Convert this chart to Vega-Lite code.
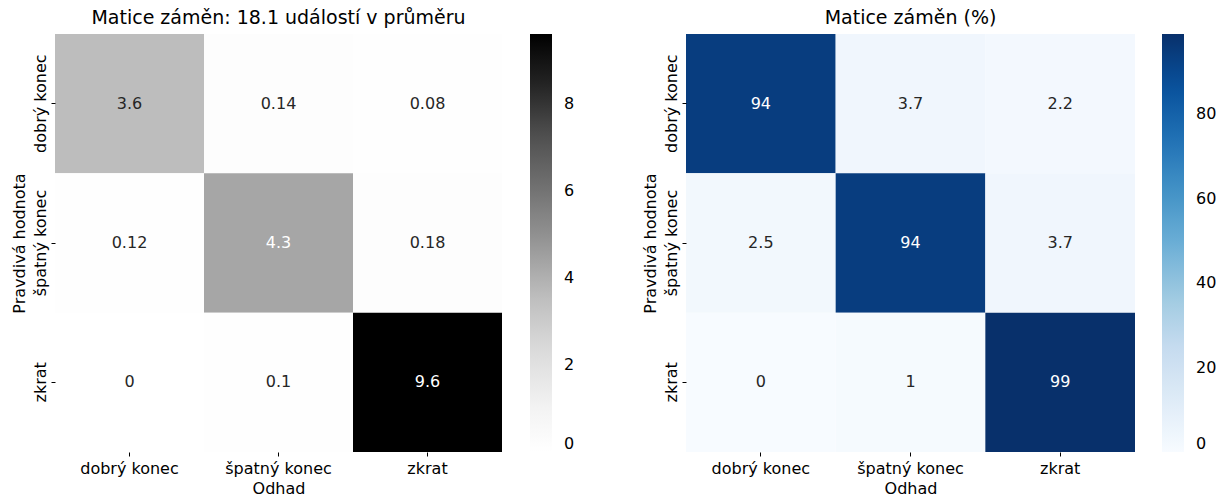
{
  "$schema": "https://vega.github.io/schema/vega-lite/v6.json",
  "padding": {"left": 11, "top": 9, "right": 0, "bottom": 0},
  "background": "white",
  "datasets": {
    "counts": [
      {"skutecnost": "dobrý konec", "odhad": "dobrý konec", "v": 3.6},
      {"skutecnost": "dobrý konec", "odhad": "špatný konec", "v": 0.14},
      {"skutecnost": "dobrý konec", "odhad": "zkrat", "v": 0.08},
      {"skutecnost": "špatný konec", "odhad": "dobrý konec", "v": 0.12},
      {"skutecnost": "špatný konec", "odhad": "špatný konec", "v": 4.3},
      {"skutecnost": "špatný konec", "odhad": "zkrat", "v": 0.18},
      {"skutecnost": "zkrat", "odhad": "dobrý konec", "v": 0},
      {"skutecnost": "zkrat", "odhad": "špatný konec", "v": 0.1},
      {"skutecnost": "zkrat", "odhad": "zkrat", "v": 9.6}
    ],
    "percent": [
      {"skutecnost": "dobrý konec", "odhad": "dobrý konec", "v": 94},
      {"skutecnost": "dobrý konec", "odhad": "špatný konec", "v": 3.7},
      {"skutecnost": "dobrý konec", "odhad": "zkrat", "v": 2.2},
      {"skutecnost": "špatný konec", "odhad": "dobrý konec", "v": 2.5},
      {"skutecnost": "špatný konec", "odhad": "špatný konec", "v": 94},
      {"skutecnost": "špatný konec", "odhad": "zkrat", "v": 3.7},
      {"skutecnost": "zkrat", "odhad": "dobrý konec", "v": 0},
      {"skutecnost": "zkrat", "odhad": "špatný konec", "v": 1},
      {"skutecnost": "zkrat", "odhad": "zkrat", "v": 99}
    ]
  },
  "hconcat": [
    {
      "title": "Matice záměn: 18.1 událostí v průměru",
      "width": 447,
      "height": 418,
      "data": {"name": "counts"},
      "encoding": {
        "x": {"field": "odhad", "type": "nominal", "sort": ["dobrý konec", "špatný konec", "zkrat"], "title": "Odhad"},
        "y": {"field": "skutecnost", "type": "nominal", "sort": ["dobrý konec", "špatný konec", "zkrat"], "title": "Pravdivá hodnota"}
      },
      "layer": [
        {
          "mark": {"type": "rect"},
          "encoding": {
            "color": {
              "field": "v", "type": "quantitative",
              "scale": {"domain": [0, 9.6], "range": ["#ffffff", "#f0f0f0", "#d9d9d9", "#bdbdbd", "#969696", "#737373", "#525252", "#252525", "#000000"], "interpolate": "rgb"},
              "legend": {"title": null, "values": [0, 2, 4, 6, 8], "gradientLength": 418, "gradientThickness": 22, "offset": 28, "labelOffset": 12, "labelBaseline": "middle", "labelFontSize": 16, "labelFont": "DejaVu Sans", "labelColor": "black", "gradientStrokeWidth": 0, "padding": 0}
            }
          }
        },
        {
          "mark": {"type": "text", "font": "DejaVu Sans", "fontSize": 16},
          "encoding": {
            "text": {"field": "v", "type": "nominal"},
            "color": {"condition": {"test": "datum.v >= 4", "value": "white"}, "value": "#262626"}
          }
        }
      ]
    },
    {
      "title": "Matice záměn (%)",
      "width": 449,
      "height": 418,
      "data": {"name": "percent"},
      "encoding": {
        "x": {"field": "odhad", "type": "nominal", "sort": ["dobrý konec", "špatný konec", "zkrat"], "title": "Odhad"},
        "y": {"field": "skutecnost", "type": "nominal", "sort": ["dobrý konec", "špatný konec", "zkrat"], "title": "Pravdivá hodnota"}
      },
      "layer": [
        {
          "mark": {"type": "rect"},
          "encoding": {
            "color": {
              "field": "v", "type": "quantitative",
              "scale": {"domain": [0, 99], "range": ["#f7fbff", "#deebf7", "#c6dbef", "#9ecae1", "#6baed6", "#4292c6", "#2171b5", "#08519c", "#08306b"], "interpolate": "rgb"},
              "legend": {"title": null, "values": [0, 20, 40, 60, 80], "gradientLength": 418, "gradientThickness": 22, "offset": 27, "labelOffset": 12, "labelBaseline": "middle", "labelFontSize": 16, "labelFont": "DejaVu Sans", "labelColor": "black", "gradientStrokeWidth": 0, "padding": 0}
            }
          }
        },
        {
          "mark": {"type": "text", "font": "DejaVu Sans", "fontSize": 16},
          "encoding": {
            "text": {"field": "v", "type": "nominal"},
            "color": {"condition": {"test": "datum.v >= 50", "value": "white"}, "value": "#262626"}
          }
        }
      ]
    }
  ],
  "spacing": 67,
  "resolve": {"scale": {"color": "independent"}},
  "config": {
    "view": {"stroke": null},
    "font": "DejaVu Sans",
    "title": {"fontSize": 19, "fontWeight": "normal", "font": "DejaVu Sans", "color": "black", "anchor": "middle", "frame": "group", "offset": 6},
    "axis": {"domain": false, "grid": false, "tickSize": 4, "tickColor": "black", "tickWidth": 1, "labelFont": "DejaVu Sans", "labelFontSize": 16, "labelColor": "black", "titleFont": "DejaVu Sans", "titleFontSize": 16, "titleFontWeight": "normal", "titleColor": "black"},
    "axisX": {"labelAngle": 0, "labelPadding": 4, "titlePadding": 4},
    "axisY": {"labelAngle": -90, "labelAlign": "center", "labelBaseline": "bottom", "labelPadding": 3, "titlePadding": 5},
    "legend": {"padding": 0}
  }
}
